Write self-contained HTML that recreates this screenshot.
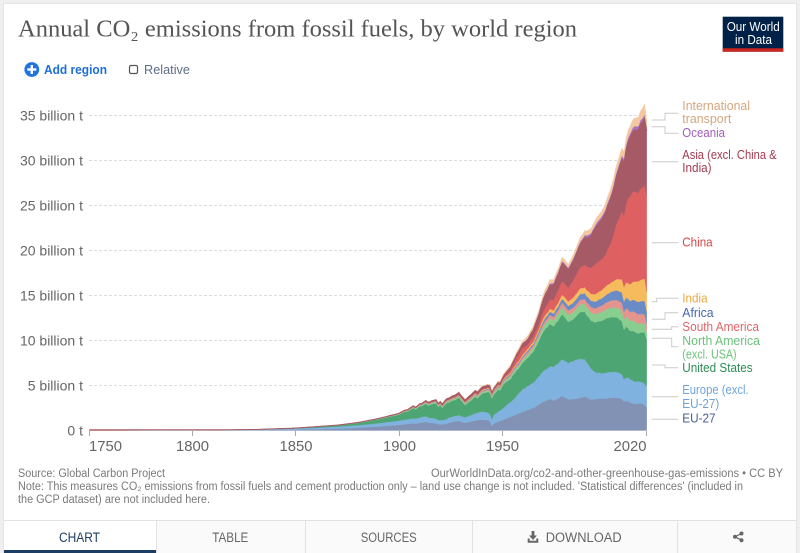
<!DOCTYPE html>
<html><head><meta charset="utf-8"><style>
html,body{margin:0;padding:0;width:800px;height:553px;overflow:hidden;background:#efefef}
svg{display:block}
</style></head><body>
<svg width="800" height="553" viewBox="0 0 800 553" xmlns="http://www.w3.org/2000/svg" font-family="'Liberation Sans', sans-serif">
<rect x="0" y="0" width="800" height="553" fill="#efefef"/>
<rect x="3.5" y="3.5" width="793" height="560" fill="#ffffff" stroke="#e4e4e4"/>

<text x="18" y="36.5" font-family="'Liberation Serif', serif" font-size="24" fill="#555" textLength="559" lengthAdjust="spacingAndGlyphs">Annual CO₂ emissions from fossil fuels, by world region</text>

<g>
<rect x="722.7" y="16.7" width="60.6" height="35" fill="#002147"/>
<rect x="722.7" y="48.3" width="60.6" height="3.4" fill="#ce261e"/>
<text x="726.7" y="31" font-size="13" fill="#fff" textLength="53" lengthAdjust="spacingAndGlyphs">Our World</text>
<text x="735" y="44" font-size="13" fill="#fff" textLength="37" lengthAdjust="spacingAndGlyphs">in Data</text>
</g>

<circle cx="31.8" cy="69.5" r="7.4" fill="#1f74e0"/>
<rect x="27.3" y="68.3" width="9" height="2.4" fill="#fff"/>
<rect x="30.6" y="65" width="2.4" height="9" fill="#fff"/>
<text x="44" y="74" font-size="13" font-weight="bold" fill="#1f6fd8" textLength="63" lengthAdjust="spacingAndGlyphs">Add region</text>
<rect x="129.5" y="65.5" width="8" height="8" rx="1.5" fill="none" stroke="#555" stroke-width="1.2"/>
<text x="144" y="74" font-size="13" fill="#5e6e8a" textLength="46" lengthAdjust="spacingAndGlyphs">Relative</text>

<g stroke="#dcdcdc" stroke-width="1" stroke-dasharray="3,2">
<line x1="89" y1="115.5" x2="648" y2="115.5"/>
<line x1="89" y1="160.5" x2="648" y2="160.5"/>
<line x1="89" y1="205.5" x2="648" y2="205.5"/>
<line x1="89" y1="250.5" x2="648" y2="250.5"/>
<line x1="89" y1="295.5" x2="648" y2="295.5"/>
<line x1="89" y1="340.5" x2="648" y2="340.5"/>
<line x1="89" y1="385.5" x2="648" y2="385.5"/>
</g>

<g font-size="14" fill="#666" text-anchor="end">
<text x="83" y="120.5">35 billion t</text>
<text x="83" y="165.5">30 billion t</text>
<text x="83" y="210.5">25 billion t</text>
<text x="83" y="255.5">20 billion t</text>
<text x="83" y="300.5">15 billion t</text>
<text x="83" y="345.5">10 billion t</text>
<text x="83" y="390.5">5 billion t</text>
<text x="83" y="435.5">0 t</text>
</g>

<g id="areas"></g>

<g stroke="#a8a8a8" stroke-width="1">
<line x1="89.5" y1="431" x2="89.5" y2="436"/>
<line x1="192.5" y1="431" x2="192.5" y2="436"/>
<line x1="295.5" y1="431" x2="295.5" y2="436"/>
<line x1="399.5" y1="431" x2="399.5" y2="436"/>
<line x1="502.5" y1="431" x2="502.5" y2="436"/>
<line x1="646.5" y1="431" x2="646.5" y2="436"/>
</g>
<g font-size="15" fill="#666">
<text x="89" y="451" textLength="33" lengthAdjust="spacingAndGlyphs">1750</text>
<text x="176" y="451" textLength="33" lengthAdjust="spacingAndGlyphs">1800</text>
<text x="279.5" y="451" textLength="33" lengthAdjust="spacingAndGlyphs">1850</text>
<text x="383" y="451" textLength="33" lengthAdjust="spacingAndGlyphs">1900</text>
<text x="486" y="451" textLength="33" lengthAdjust="spacingAndGlyphs">1950</text>
<text x="613.5" y="451" textLength="33" lengthAdjust="spacingAndGlyphs">2020</text>
</g>

<g stroke="#cccccc" stroke-width="1" fill="none">
<polyline points="651.7,120 665,120 665,113.3 678.3,113.3"/>
<polyline points="651.7,126.7 665,126.7 665,133.3 678.3,133.3"/>
<polyline points="651.7,161.7 678.3,161.7"/>
<polyline points="651.7,242.7 678.3,242.7"/>
<polyline points="651.7,301.7 656.7,301.7 656.7,298.3 678.3,298.3"/>
<polyline points="651.7,319.3 665,319.3 665,312.7 678.3,312.7"/>
<polyline points="651.7,329.3 671.7,329.3 671.7,326.7 678.3,326.7"/>
<polyline points="651.7,338.3 671.7,338.3 671.7,346.7 678.3,346.7"/>
<polyline points="651.7,365 665,365 665,367.7 678.3,367.7"/>
<polyline points="651.7,396.7 678.3,396.7"/>
<polyline points="651.7,419.3 678.3,419.3"/>
</g>
<g font-size="12.5">
<text x="682.3" y="110" fill="#d6a67e" textLength="67.7" lengthAdjust="spacingAndGlyphs">International</text>
<text x="682.3" y="123" fill="#d6a67e" textLength="49" lengthAdjust="spacingAndGlyphs">transport</text>
<text x="682.3" y="137" fill="#a35dbb" textLength="42.7" lengthAdjust="spacingAndGlyphs">Oceania</text>
<text x="682.3" y="159" fill="#a33b4f" textLength="94.3" lengthAdjust="spacingAndGlyphs">Asia (excl. China &amp;</text>
<text x="682.3" y="172" fill="#a33b4f" textLength="29.3" lengthAdjust="spacingAndGlyphs">India)</text>
<text x="682.3" y="246.5" fill="#d94545" textLength="30.3" lengthAdjust="spacingAndGlyphs">China</text>
<text x="682.3" y="302.5" fill="#eda840" textLength="25.3" lengthAdjust="spacingAndGlyphs">India</text>
<text x="682.3" y="317" fill="#4367b5" textLength="31.3" lengthAdjust="spacingAndGlyphs">Africa</text>
<text x="682.3" y="331" fill="#e06666" textLength="76.7" lengthAdjust="spacingAndGlyphs">South America</text>
<text x="682.3" y="345" fill="#6cc27a" textLength="77.7" lengthAdjust="spacingAndGlyphs">North America</text>
<text x="682.3" y="358.5" fill="#6cc27a" textLength="54.3" lengthAdjust="spacingAndGlyphs">(excl. USA)</text>
<text x="682.3" y="372" fill="#2e8b57" textLength="70.3" lengthAdjust="spacingAndGlyphs">United States</text>
<text x="682.3" y="394" fill="#6fa3d8" textLength="66.3" lengthAdjust="spacingAndGlyphs">Europe (excl.</text>
<text x="682.3" y="408" fill="#6fa3d8" textLength="37" lengthAdjust="spacingAndGlyphs">EU-27)</text>
<text x="682.3" y="422.5" fill="#4a5f94" textLength="33.3" lengthAdjust="spacingAndGlyphs">EU-27</text>
</g>

<g font-size="11.5" fill="#7a7a7a">
<text x="18" y="477" textLength="147" lengthAdjust="spacingAndGlyphs">Source: Global Carbon Project</text>
<text x="431" y="477" textLength="352" lengthAdjust="spacingAndGlyphs">OurWorldInData.org/co2-and-other-greenhouse-gas-emissions • CC BY</text>
<text x="18" y="490" textLength="725" lengthAdjust="spacingAndGlyphs">Note: This measures CO₂ emissions from fossil fuels and cement production only – land use change is not included. 'Statistical differences' (included in</text>
<text x="18" y="503" textLength="192" lengthAdjust="spacingAndGlyphs">the GCP dataset) are not included here.</text>
</g>

<rect x="156" y="520" width="640" height="33" fill="#fafafa"/>
<rect x="4" y="520" width="152" height="33" fill="#ffffff"/>
<line x1="4" y1="520.5" x2="796" y2="520.5" stroke="#e2e2e2"/>
<g stroke="#e2e2e2">
<line x1="156.5" y1="520" x2="156.5" y2="553"/>
<line x1="305.5" y1="520" x2="305.5" y2="553"/>
<line x1="472.5" y1="520" x2="472.5" y2="553"/>
<line x1="677.5" y1="520" x2="677.5" y2="553"/>
</g>
<rect x="4" y="550" width="152" height="3" fill="#1d3d63"/>
<g font-size="13.5">
<text x="59" y="542" fill="#1d3d63" textLength="41" lengthAdjust="spacingAndGlyphs">CHART</text>
<text x="212.3" y="542" fill="#666" textLength="36" lengthAdjust="spacingAndGlyphs">TABLE</text>
<text x="360.7" y="542" fill="#666" textLength="56" lengthAdjust="spacingAndGlyphs">SOURCES</text>
<text x="545.7" y="542" fill="#666" textLength="76" lengthAdjust="spacingAndGlyphs">DOWNLOAD</text>
</g>
<g fill="#666">
<rect x="531.6" y="531" width="2.8" height="5"/>
<polygon points="529,535.5 537,535.5 533,540"/>
<path d="M527.7,538.5 h2 v2.2 h6.6 v-2.2 h2 v4.2 h-10.6z"/>
</g>
<g fill="#666" stroke="#666" stroke-width="1.2">
<line x1="741.5" y1="533.5" x2="735" y2="536.8"/>
<line x1="735" y1="536.8" x2="741.5" y2="540.2"/>
<circle cx="741.5" cy="533.5" r="2" stroke="none"/>
<circle cx="735" cy="536.8" r="2" stroke="none"/>
<circle cx="741.5" cy="540.2" r="2" stroke="none"/>
</g>
</svg>
<script>
(function(){
var X=function(y){return 89.3+(y-1750)*2.0644;};
var Y=function(v){return 430.5-v*9.0;};
var S=[
{c:'#8292b5',d:[[1750,.004],[1800,.012],[1830,.03],[1850,.08],[1870,.2],[1880,.3],[1890,.45],[1900,.62],[1907,.8],[1908,.76],[1910,.85],[1913,.97],[1915,.85],[1918,.82],[1919,.7],[1921,.7],[1923,.72],[1924,.85],[1927,1.0],[1929,1.05],[1932,.86],[1937,1.12],[1940,1.2],[1943,1.15],[1944,1.05],[1945,.5],[1946,.8],[1950,1.15],[1955,1.6],[1960,2.1],[1965,2.5],[1970,3.2],[1973,3.5],[1975,3.3],[1979,3.85],[1982,3.45],[1985,3.5],[1988,3.65],[1990,3.8],[1993,3.45],[1995,3.5],[1998,3.55],[2000,3.55],[2003,3.65],[2005,3.65],[2008,3.5],[2009,3.2],[2010,3.3],[2012,3.1],[2014,2.95],[2017,3.0],[2019,2.85],[2020,2.6]]},
{c:'#7fb2de',d:[[1750,.006],[1800,.025],[1830,.06],[1850,.13],[1870,.22],[1880,.28],[1890,.35],[1900,.48],[1910,.58],[1913,.62],[1915,.55],[1918,.5],[1919,.45],[1921,.45],[1924,.55],[1929,.65],[1932,.6],[1937,.78],[1940,.9],[1943,.85],[1945,.75],[1946,.95],[1950,1.25],[1955,1.75],[1960,2.5],[1965,2.8],[1970,3.4],[1973,3.6],[1975,3.75],[1979,4.05],[1982,4.05],[1985,4.3],[1988,4.35],[1990,4.1],[1992,3.7],[1995,3.0],[1998,2.8],[2000,2.85],[2003,2.85],[2005,2.85],[2008,2.75],[2009,2.5],[2011,2.65],[2014,2.5],[2016,2.45],[2019,2.35],[2020,2.3]]},
{c:'#4ea574',d:[[1750,0],[1800,.002],[1830,.01],[1850,.05],[1870,.15],[1880,.25],[1890,.45],[1900,.66],[1903,.9],[1904,.85],[1907,1.15],[1908,1.0],[1910,1.25],[1911,1.2],[1913,1.4],[1914,1.3],[1916,1.55],[1918,1.7],[1919,1.45],[1920,1.65],[1921,1.35],[1923,1.8],[1924,1.7],[1926,1.8],[1927,1.75],[1929,1.95],[1932,1.35],[1937,1.85],[1938,1.6],[1941,2.1],[1944,2.35],[1945,2.3],[1946,2.25],[1948,2.45],[1949,2.2],[1950,2.5],[1951,2.65],[1954,2.55],[1955,2.75],[1957,2.85],[1958,2.75],[1960,2.95],[1965,3.4],[1970,4.4],[1973,4.75],[1975,4.5],[1979,5.0],[1982,4.55],[1985,4.7],[1988,5.2],[1990,5.3],[1991,5.2],[1995,5.5],[2000,6.0],[2005,6.1],[2008,5.9],[2009,5.5],[2010,5.7],[2012,5.35],[2014,5.55],[2016,5.3],[2018,5.55],[2019,5.7],[2020,5.2]]},
{c:'#88cf8f',d:[[1750,0],[1850,.003],[1870,.01],[1890,.03],[1900,.05],[1910,.1],[1913,.12],[1921,.13],[1929,.15],[1932,.13],[1937,.16],[1945,.19],[1950,.22],[1955,.28],[1960,.35],[1965,.42],[1970,.55],[1973,.62],[1975,.65],[1979,.78],[1982,.8],[1985,.8],[1990,.87],[1995,.9],[2000,1.0],[2005,1.1],[2008,1.15],[2009,1.1],[2014,1.15],[2016,1.1],[2019,.95],[2020,.85]]},
{c:'#e2948d',d:[[1750,0],[1850,.001],[1870,.003],[1890,.01],[1900,.02],[1910,.04],[1929,.06],[1937,.08],[1950,.12],[1955,.17],[1960,.22],[1965,.27],[1970,.33],[1973,.38],[1975,.4],[1979,.5],[1982,.48],[1985,.48],[1990,.55],[1995,.65],[2000,.75],[2005,.82],[2008,.9],[2009,.88],[2011,.95],[2014,1.05],[2016,1.05],[2019,1.05],[2020,.95]]},
{c:'#6a8bc6',d:[[1750,0],[1870,.002],[1900,.01],[1910,.02],[1929,.05],[1937,.06],[1950,.1],[1955,.13],[1960,.16],[1965,.2],[1970,.3],[1973,.35],[1975,.37],[1979,.45],[1982,.5],[1985,.57],[1990,.65],[1995,.75],[2000,.85],[2005,1.05],[2008,1.15],[2009,1.15],[2011,1.2],[2014,1.3],[2016,1.35],[2019,1.5],[2020,1.35]]},
{c:'#f6bb5c',d:[[1750,0],[1870,.005],[1900,.02],[1910,.03],[1929,.06],[1937,.07],[1950,.1],[1955,.14],[1960,.17],[1965,.23],[1970,.3],[1973,.32],[1975,.36],[1979,.44],[1982,.5],[1985,.6],[1990,.65],[1992,.72],[1995,.82],[1998,.9],[2000,.98],[2003,1.05],[2005,1.2],[2008,1.45],[2009,1.6],[2011,1.75],[2014,2.05],[2016,2.3],[2019,2.45],[2020,2.15]]},
{c:'#df6060',d:[[1750,0],[1870,.001],[1900,.003],[1910,.01],[1929,.04],[1937,.06],[1945,.05],[1950,.08],[1955,.35],[1958,.7],[1960,.75],[1962,.45],[1965,.55],[1968,.55],[1970,.8],[1973,1.0],[1975,1.2],[1979,1.5],[1982,1.5],[1985,2.0],[1988,2.35],[1990,2.5],[1992,2.7],[1995,3.3],[1998,3.4],[2000,3.5],[2003,4.6],[2005,5.9],[2008,7.5],[2009,7.9],[2011,9.4],[2013,10.0],[2014,10.0],[2016,9.8],[2019,10.4],[2020,10.7]]},
{c:'#a65a66',line:1,d:[[1750,0],[1850,.001],[1870,.005],[1890,.02],[1900,.04],[1910,.08],[1913,.1],[1918,.12],[1921,.14],[1929,.2],[1932,.2],[1937,.25],[1944,.25],[1945,.15],[1946,.17],[1950,.22],[1955,.32],[1960,.45],[1965,.75],[1970,1.35],[1973,1.6],[1975,1.65],[1979,2.0],[1982,2.0],[1985,2.2],[1988,2.6],[1990,3.0],[1992,3.3],[1995,4.0],[1998,4.4],[2000,4.7],[2003,5.0],[2005,5.3],[2008,5.8],[2009,5.9],[2011,6.3],[2014,6.8],[2016,7.0],[2019,7.4],[2020,7.15]]},
{c:'#a770b8',d:[[1750,0],[1850,.002],[1870,.004],[1890,.01],[1900,.02],[1910,.03],[1929,.04],[1937,.05],[1950,.07],[1960,.1],[1970,.18],[1980,.24],[1990,.3],[2000,.38],[2008,.44],[2019,.47],[2020,.45]]},
{c:'#f3c7a0',d:[[1750,0],[1920,0],[1929,.05],[1937,.06],[1945,.1],[1950,.16],[1960,.25],[1970,.4],[1973,.45],[1975,.4],[1979,.45],[1982,.4],[1990,.5],[2000,.65],[2005,.8],[2008,.85],[2009,.8],[2014,.9],[2016,1.0],[2019,1.15],[2020,.8]]}
];
var yrs=[];for(var y=1750;y<=2020;y++)yrs.push(y);
function iv(a,y){for(var i=0;i<a.length-1;i++){if(y>=a[i][0]&&y<=a[i+1][0]){var t=(y-a[i][0])/(a[i+1][0]-a[i][0]);return a[i][1]+t*(a[i+1][1]-a[i][1]);}}return a[a.length-1][1];}
var base=yrs.map(function(){return 0;});
var out='',lineD='';
S.forEach(function(s,k){
  var anch={};s.d.forEach(function(p){anch[p[0]]=1;});
  var top=yrs.map(function(y,j){var v=iv(s.d,y);if(!anch[y]&&y>1880){v*=1+0.008*Math.sin(y*2.7+k*1.3)+0.005*Math.sin(y*5.1+k);}return base[j]+Math.max(0,v);});
  var d='M'+yrs.map(function(y,j){return X(y).toFixed(2)+','+Y(top[j]).toFixed(2);}).join('L');
  for(var j=yrs.length-1;j>=0;j--)d+='L'+X(yrs[j]).toFixed(2)+','+Y(base[j]).toFixed(2);
  d+='Z';
  out+='<path d="'+d+'" fill="'+s.c+'" stroke="'+s.c+'" stroke-width="0.3"/>';
  if(s.line){lineD='M'+yrs.map(function(y,j){return X(y).toFixed(2)+','+Math.min(Y(top[j]),429.8).toFixed(2);}).join('L');}
  base=top;
});
out+='<path d="'+lineD+'" fill="none" stroke="#a65a66" stroke-width="1"/>';
document.getElementById('areas').innerHTML=out;
})();
</script>
</body></html>
